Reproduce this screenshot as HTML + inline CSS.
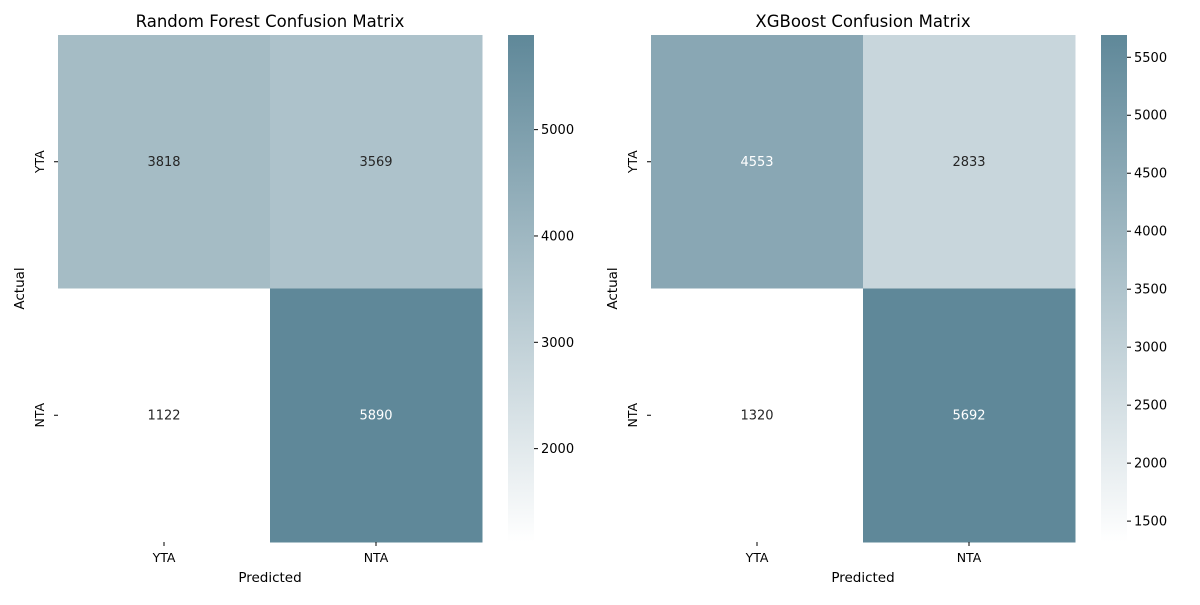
<!DOCTYPE html>
<html><head><meta charset="utf-8"><style>
body{margin:0;background:#fff;font-family:"Liberation Sans","DejaVu Sans",sans-serif}
svg text{font-family:"DejaVu Sans","Liberation Sans",sans-serif}
</style></head><body>
<svg id="c" width="1200" height="600" xmlns="http://www.w3.org/2000/svg"></svg>
<script>
const categories = ["YTA","NTA"];
const rfValues = [[3818,3569],[1122,5890]];
const xgbValues = [[4553,2833],[1320,5692]];
const rfTicks = [2000,3000,4000,5000];
const xgbTicks = [1500,2000,2500,3000,3500,4000,4500,5000,5500];
const titles = ["Random Forest Confusion Matrix","XGBoost Confusion Matrix"];

const svg = document.getElementById('c');
const NS = "http://www.w3.org/2000/svg";
function mk(tag, attrs, parent){const e=document.createElementNS(NS,tag);for(const k in attrs)e.setAttribute(k,attrs[k]);(parent||svg).appendChild(e);return e;}
function col(t){const r=Math.round(255-t*(255-95)),g=Math.round(255-t*(255-136)),b=Math.round(255-t*(255-153));return `rgb(${r},${g},${b})`;}

function panel(x0, cbx, values, ticks, title, key){
  const top=35, bot=542, w=424, h=bot-top;
  const flat=values.flat(); const mn=Math.min(...flat), mx=Math.max(...flat);
  const cw=w/categories.length, ch=h/categories.length;
  const g=mk('g',{});
  
  
  values.forEach((row,i)=>row.forEach((v,j)=>{
    const t=(v-mn)/(mx-mn);
    const r=mk('rect',{x:x0+j*cw,y:top+i*ch,width:cw+0.5,height:ch+0.5,fill:col(t)},g);
    
    
    const tx=mk('text',{x:x0+j*cw+cw/2,y:top+i*ch+ch/2+4,'text-anchor':'middle','font-size':13,fill:t>0.6?'#fff':'#262626'},g);
    tx.textContent=v;
    
    
  }));
  categories.forEach((c,i)=>{
    const xc=x0+i*cw+cw/2;
    mk('line',{x1:xc,x2:xc,y1:bot,y2:bot+4,stroke:'#000'},g);
    const tx=mk('text',{x:xc,y:bot+20,'text-anchor':'middle','font-size':12.5},g);tx.textContent=c;
    
    
    const yc=top+i*ch+ch/2;
    mk('line',{x1:x0-4,x2:x0,y1:yc,y2:yc,stroke:'#000'},g);
    const ty=mk('text',{x:0,y:0,'text-anchor':'middle','font-size':12.5,transform:`translate(${x0-14},${yc}) rotate(-90)`},g);ty.textContent=c;
    
    
  });
  const xl=mk('text',{x:x0+w/2,y:582,'text-anchor':'middle','font-size':13.5},g);xl.textContent='Predicted';
  
  
  const yl=mk('text',{x:0,y:0,'text-anchor':'middle','font-size':13.5,transform:`translate(${x0-34},${top+h/2}) rotate(-90)`},g);yl.textContent='Actual';
  
  
  const tt=mk('text',{x:x0+w/2,y:27,'text-anchor':'middle','font-size':16.5},g);tt.textContent=title;
  
  
  const gid='grad'+key;
  const defs=mk('defs',{});
  const lg=mk('linearGradient',{id:gid,x1:0,y1:1,x2:0,y2:0},defs);
  mk('stop',{offset:0,'stop-color':col(0)},lg);mk('stop',{offset:1,'stop-color':col(1)},lg);
  const cb=mk('rect',{x:cbx,y:top,width:26,height:h,fill:`url(#${gid})`});
  
  
  ticks.forEach(v=>{
    const y=bot-(v-mn)/(mx-mn)*h;
    mk('line',{x1:cbx+26,x2:cbx+30,y1:y,y2:y,stroke:'#000'});
    const t=mk('text',{x:cbx+33,y:y+4.5,'font-size':13});t.textContent=v;
    
    
  });
}
panel(58,508,rfValues,rfTicks,titles[0],'rf');
panel(651,1101,xgbValues,xgbTicks,titles[1],'xgb');
</script>
</body></html>
